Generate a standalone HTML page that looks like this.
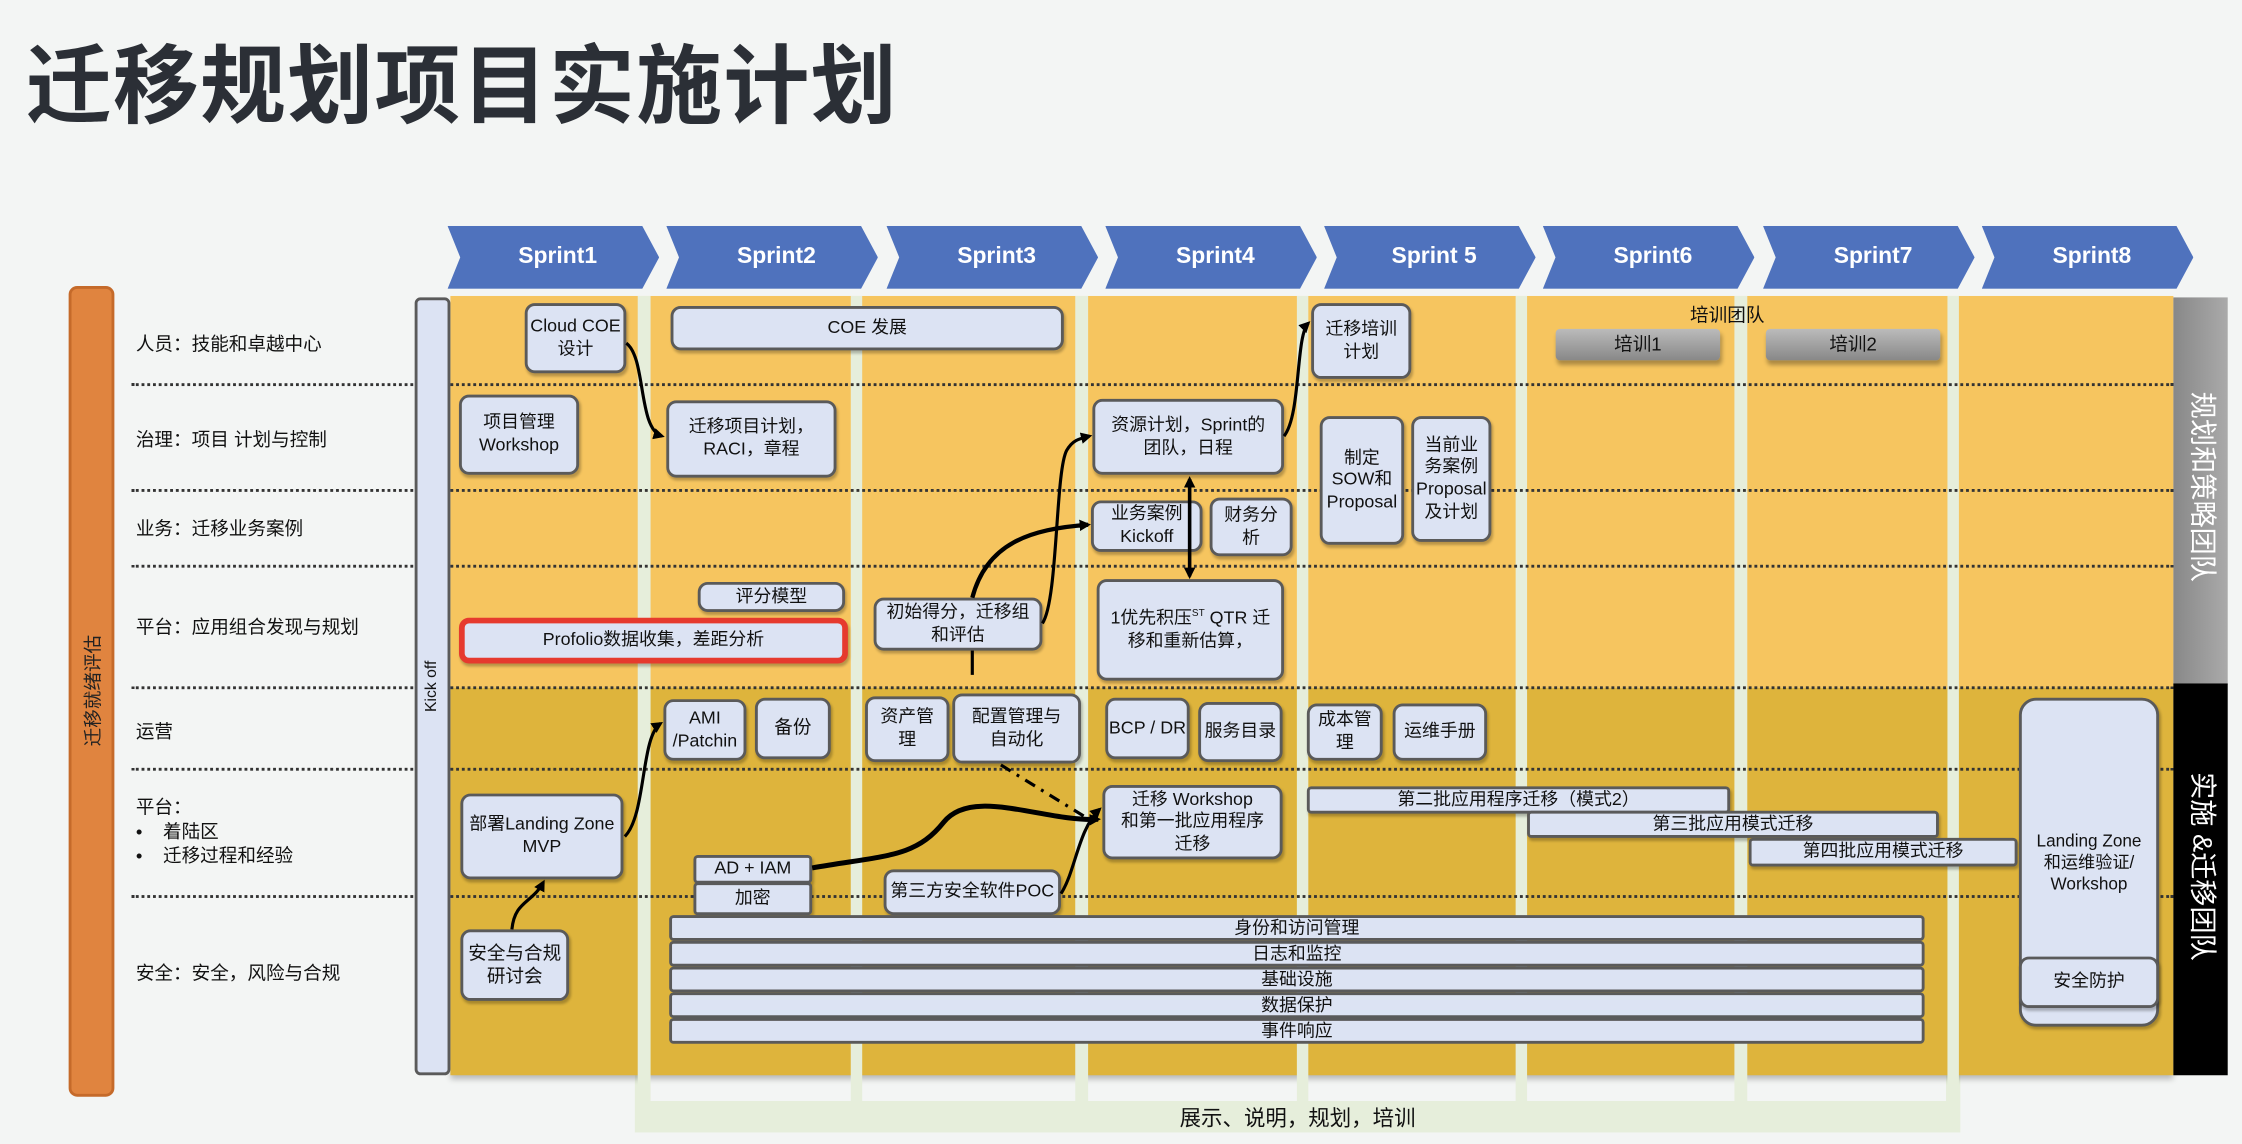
<!DOCTYPE html>
<html><head><meta charset="utf-8"><style>
*{margin:0;padding:0;box-sizing:border-box}
html,body{width:2242px;height:1144px;overflow:hidden;background:#f3f5f4}
#w{position:absolute;left:0;top:0;width:1568px;height:800px;transform:scale(1.42985);transform-origin:0 0;font-family:"Liberation Sans","Noto Sans CJK SC",sans-serif;color:#111}
.a{position:absolute}
.b{position:absolute;background:#dce3f3;border:2px solid #5a5a5a;border-radius:7px;display:flex;align-items:center;justify-content:center;text-align:center;font-size:12.5px;line-height:1.25;box-shadow:1px 2px 2px rgba(0,0,0,.25)}
.lbl{position:absolute;left:95px;font-size:13px}
.dl{position:absolute;left:92px;width:1428px;border-top:2px dotted #333}
.sp{position:absolute;top:158px;width:148px;height:44px;background:#4f72bd;clip-path:polygon(0 0,92% 0,100% 50%,92% 100%,0 100%,6% 50%);color:#fff;font-weight:bold;font-size:16px;display:flex;align-items:center;justify-content:center;padding-left:6px}
.st{position:absolute;background:#e6eedb}
.bar{position:absolute;left:468px;width:878px;height:18px;background:#dce3f3;border:2px solid #5a5a5a;border-radius:3px;font-size:12.5px;text-align:center;line-height:14px}
.g{position:absolute;height:22px;background:linear-gradient(#bbb,#888);border-radius:3px;text-align:center;font-size:13px;line-height:22px;box-shadow:1px 3px 3px rgba(0,0,0,.3)}
.vt{position:absolute;writing-mode:vertical-rl;text-orientation:sideways;color:#fff;font-size:19px}
</style></head><body><div id="w">
<div class="a" style="left:18px;top:12px;font-size:60px;font-weight:bold;color:#2b2f36;letter-spacing:1px">迁移规划项目实施计划</div>

<div class="sp" style="left:313px">Sprint1</div>
<div class="sp" style="left:466px">Sprint2</div>
<div class="sp" style="left:620px">Sprint3</div>
<div class="sp" style="left:773px">Sprint4</div>
<div class="sp" style="left:926px">Sprint 5</div>
<div class="sp" style="left:1079px">Sprint6</div>
<div class="sp" style="left:1233px">Sprint7</div>
<div class="sp" style="left:1386px">Sprint8</div>

<div class="a" style="left:48px;top:200px;width:32px;height:567px;background:#e0843f;border:2px solid #c56a2a;border-radius:6px"></div>
<div class="a" style="left:64px;top:483px;transform:translate(-50%,-50%) rotate(-90deg);color:#222;font-size:13px;white-space:nowrap">迁移就绪评估</div>

<div class="a" style="left:444px;top:752px;width:927px;height:40px;background:#e6eedb"></div>
<div class="a" style="left:454px;top:752px;width:907px;height:18px;background:#f3f5f4"></div>
<div class="a" style="left:444px;top:771px;width:927px;text-align:center;font-size:15px">展示、说明，规划，培训</div>

<div class="a" style="left:315px;top:207px;width:1205px;height:274px;background:#f6c55f"></div>
<div class="a" style="left:315px;top:481px;width:1205px;height:271px;background:#deb43c;box-shadow:0 3px 4px rgba(0,0,0,.25)"></div>
<div class="st" style="left:446px;top:207px;width:9px;height:563px"></div>
<div class="st" style="left:595px;top:207px;width:8px;height:563px"></div>
<div class="st" style="left:752px;top:207px;width:9px;height:563px"></div>
<div class="st" style="left:907px;top:207px;width:8px;height:563px"></div>
<div class="st" style="left:1060px;top:207px;width:8px;height:563px"></div>
<div class="st" style="left:1213px;top:207px;width:9px;height:563px"></div>
<div class="st" style="left:1362px;top:207px;width:8px;height:563px"></div>

<div class="a" style="left:1520px;top:208px;width:38px;height:271px;background:linear-gradient(90deg,#888,#aaa)"></div>
<div class="a" style="left:1520px;top:478px;width:38px;height:274px;background:#000"></div>
<div class="vt" style="left:1528px;top:274px">规划和策略团队</div>
<div class="vt" style="left:1528px;top:540px">实施 &amp;迁移团队</div>

<div class="dl" style="top:268px"></div>
<div class="dl" style="top:342px"></div>
<div class="dl" style="top:395px"></div>
<div class="dl" style="top:480px"></div>
<div class="dl" style="top:537px"></div>
<div class="dl" style="top:626px"></div>

<div class="lbl" style="top:230px">人员：技能和卓越中心</div>
<div class="lbl" style="top:297px">治理：项目 计划与控制</div>
<div class="lbl" style="top:359px">业务：迁移业务案例</div>
<div class="lbl" style="top:428px">平台：应用组合发现与规划</div>
<div class="lbl" style="top:501px">运营</div>
<div class="lbl" style="top:556px;line-height:17px">平台：<br>•&nbsp;&nbsp;&nbsp;&nbsp;着陆区<br>•&nbsp;&nbsp;&nbsp;&nbsp;迁移过程和经验</div>
<div class="lbl" style="top:670px">安全：安全，风险与合规</div>

<div class="a" style="left:290px;top:208px;width:25px;height:544px;background:#dce3f3;border:2px solid #5a5a5a;border-radius:4px"></div>
<div class="a" style="left:302px;top:480px;transform:translate(-50%,-50%) rotate(-90deg);font-size:11px;white-space:nowrap">Kick off</div>

<div class="b" style="left:367px;top:212px;width:71px;height:49px">Cloud COE<br>设计</div>
<div class="b" style="left:469px;top:214px;width:275px;height:31px">COE 发展</div>
<div class="b" style="left:321px;top:276px;width:84px;height:56px">项目管理<br>Workshop</div>
<div class="b" style="left:466px;top:280px;width:119px;height:54px">迁移项目计划，<br>RACI，章程</div>
<div class="b" style="left:917px;top:212px;width:70px;height:53px">迁移培训<br>计划</div>
<div class="b" style="left:764px;top:279px;width:134px;height:53px">资源计划，Sprint的<br>团队，日程</div>
<div class="b" style="left:923px;top:291px;width:59px;height:90px">制定<br>SOW和<br>Proposal</div>
<div class="b" style="left:987px;top:291px;width:56px;height:88px">当前业<br>务案例<br>Proposal<br>及计划</div>
<div class="b" style="left:763px;top:350px;width:78px;height:36px">业务案例<br>Kickoff</div>
<div class="b" style="left:846px;top:348px;width:58px;height:41px">财务分<br>析</div>
<div class="b" style="left:488px;top:407px;width:103px;height:21px">评分模型</div>
<div class="b" style="left:321px;top:432px;width:272px;height:32px;border:4px solid #e63a2e">Profolio数据收集，差距分析</div>
<div class="b" style="left:611px;top:418px;width:118px;height:37px">初始得分，迁移组<br>和评估</div>
<div class="b" style="left:767px;top:405px;width:131px;height:71px;display:block;padding-top:18px;white-space:nowrap">1优先积压<span style="font-size:7px;vertical-align:super">ST</span> QTR 迁<br>移和重新估算，</div>
<div class="a" style="left:1150px;top:210px;width:116px;text-align:center;font-size:13px">培训团队</div>
<div class="g" style="left:1088px;top:230px;width:115px">培训1</div>
<div class="g" style="left:1235px;top:230px;width:122px">培训2</div>

<div class="b" style="left:464px;top:489px;width:58px;height:43px">AMI<br>/Patchin</div>
<div class="b" style="left:528px;top:488px;width:53px;height:43px;font-size:13px">备份</div>
<div class="b" style="left:605px;top:487px;width:59px;height:46px">资产管<br>理</div>
<div class="b" style="left:666px;top:485px;width:90px;height:49px">配置管理与<br>自动化</div>
<div class="b" style="left:773px;top:488px;width:59px;height:43px">BCP / DR</div>
<div class="b" style="left:838px;top:491px;width:59px;height:42px">服务目录</div>
<div class="b" style="left:914px;top:492px;width:53px;height:40px">成本管<br>理</div>
<div class="b" style="left:974px;top:492px;width:66px;height:40px">运维手册</div>

<div class="b" style="left:322px;top:555px;width:114px;height:60px">部署Landing Zone<br>MVP</div>
<div class="b" style="left:771px;top:549px;width:126px;height:52px">迁移 Workshop<br>和第一批应用程序<br>迁移</div>
<div class="b" style="left:914px;top:550px;width:296px;height:19px;border-radius:3px">第二批应用程序迁移（模式2）</div>
<div class="b" style="left:1068px;top:567px;width:288px;height:19px;border-radius:3px">第三批应用模式迁移</div>
<div class="b" style="left:1223px;top:586px;width:188px;height:20px;border-radius:3px">第四批应用模式迁移</div>
<div class="b" style="left:1412px;top:488px;width:98px;height:230px;border-radius:12px;font-size:12px">Landing Zone<br>和运维验证/<br>Workshop</div>
<div class="b" style="left:1412px;top:669px;width:98px;height:36px;font-size:12.5px">安全防护</div>
<div class="b" style="left:485px;top:598px;width:83px;height:20px;border-radius:3px">AD + IAM</div>
<div class="b" style="left:485px;top:617px;width:83px;height:23px;border-radius:3px">加密</div>
<div class="b" style="left:618px;top:608px;width:124px;height:32px">第三方安全软件POC</div>
<div class="b" style="left:322px;top:650px;width:76px;height:50px;font-size:13px">安全与合规<br>研讨会</div>

<div class="bar" style="top:640px">身份和访问管理</div>
<div class="bar" style="top:658px">日志和监控</div>
<div class="bar" style="top:676px">基础设施</div>
<div class="bar" style="top:694px">数据保护</div>
<div class="bar" style="top:712px">事件响应</div>

<svg class="a" style="left:0;top:0" width="1568" height="800" viewBox="0 0 1568 800">
<defs><marker id="m" markerWidth="8" markerHeight="8" refX="6" refY="4" orient="auto" markerUnits="userSpaceOnUse"><path d="M0,0 L8,4 L0,8 z" fill="#000"/></marker>
<marker id="ms" markerWidth="8" markerHeight="8" refX="2" refY="4" orient="auto" markerUnits="userSpaceOnUse"><path d="M8,0 L0,4 L8,8 z" fill="#000"/></marker></defs>
<g fill="none" stroke="#000" stroke-width="2.2">
<path d="M438,240 C452,250 446,300 463,305" marker-end="url(#m)"/>
<path d="M437,585 C452,570 448,515 462,506" marker-end="url(#m)"/>
<path d="M358,650 C360,630 372,632 380,617" marker-end="url(#m)"/>
<path d="M568,607 C620,598 640,600 660,575 C680,550 730,575 768,573" stroke-width="3.5" marker-end="url(#m)"/>
<path d="M742,625 C752,610 754,580 769,566" marker-end="url(#m)"/>
<path d="M680,418 C690,380 720,370 761,367" stroke-width="3" marker-end="url(#m)"/>
<path d="M729,436 C740,420 738,330 746,315 C750,308 754,307 762,305" marker-end="url(#m)"/>
<path d="M680,455 L680,472"/>
<path d="M832,335 L832,403" stroke-width="2.5" marker-start="url(#ms)" marker-end="url(#m)"/>
<path d="M898,305 C910,290 906,235 915,226" marker-end="url(#m)"/>
<path d="M700,535 L760,572" stroke-dasharray="8,5,2,5"/>
</g></svg>
</div></body></html>
